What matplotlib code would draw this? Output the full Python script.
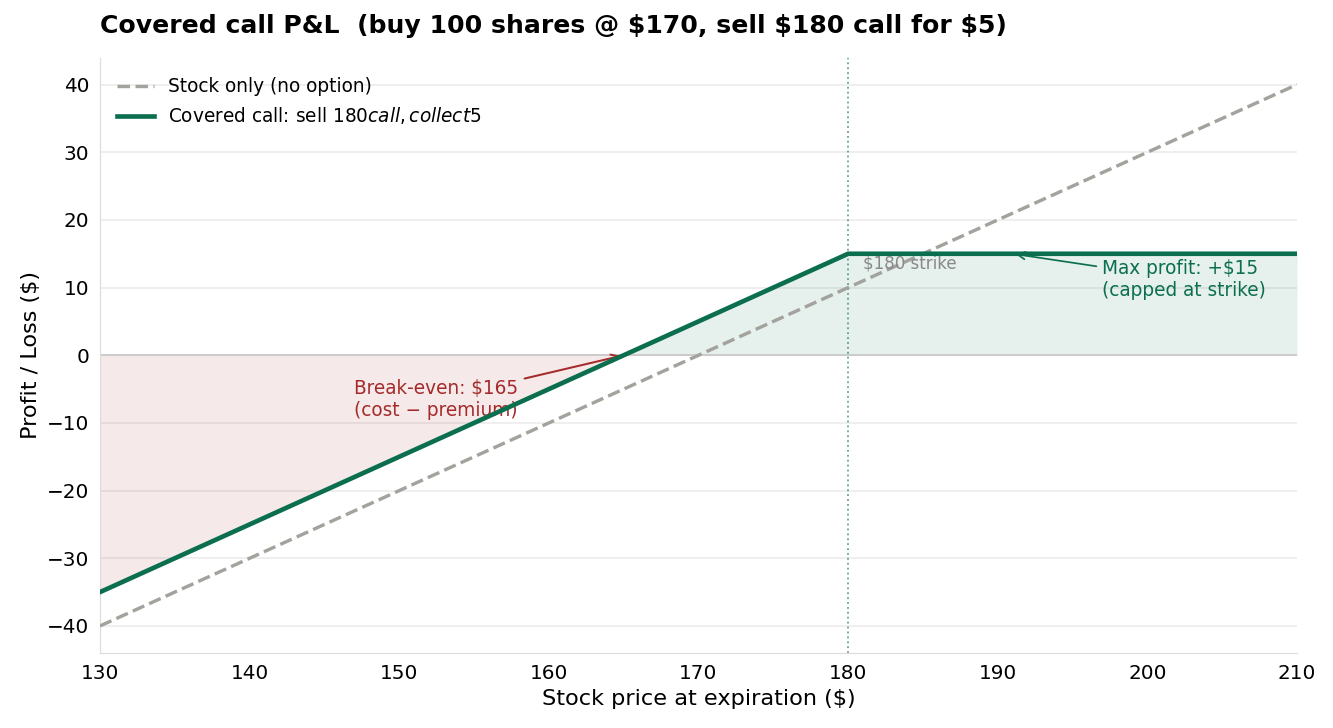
import numpy as np
import matplotlib
matplotlib.use("Agg")
import matplotlib.pyplot as plt

prices = [130, 165, 180, 210]
stock_pnl = [-40, -5, 10, 40]
covered_pnl = [-35, 0, 15, 15]
strike = 180
breakeven = 165
max_profit = 15

green = "#0b6e4f"
red = "#a52a2a"
gray = "#a3a39e"

DPI = 111.1
fig, ax = plt.subplots(figsize=(1333 / DPI, 728 / DPI), dpi=DPI)
fig.subplots_adjust(left=0.075, right=0.973, top=0.921, bottom=0.103)

x = np.array(prices, dtype=float)
yc = np.array(covered_pnl, dtype=float)

ax.fill_between(x[:2], yc[:2], 0, color=red, alpha=0.1, linewidth=0)
ax.fill_between(x[1:], yc[1:], 0, color=green, alpha=0.1, linewidth=0)

ax.axhline(0, color="#cccccc", linewidth=1.3, zorder=1)
ax.axvline(strike, color=green, linestyle=":", linewidth=1.2, alpha=0.6, zorder=1)

ax.plot(prices, stock_pnl, linestyle="--", color=gray, linewidth=2.2,
        label="Stock only (no option)", zorder=3)
ax.plot(prices, covered_pnl, color=green, linewidth=3.0,
        label="Covered call: sell $180 call, collect $5", zorder=4)

ax.text(strike + 1, 12.3, "$180 strike", color="#888888", fontsize=10.8, va="bottom")

ax.annotate("Break-even: $165\n(cost \u2212 premium)", xy=(breakeven, 0),
            xytext=(147, -6.5), color=red, fontsize=12, va="center", ha="left",
            arrowprops=dict(arrowstyle="->", color=red, lw=1.3))
ax.annotate("Max profit: +$15\n(capped at strike)", xy=(191, max_profit),
            xytext=(197, 11.2), color=green, fontsize=12, va="center", ha="left",
            arrowprops=dict(arrowstyle="->", color=green, lw=1.1))

ax.set_xlim(130, 210)
ax.set_ylim(-44, 44)
ax.set_xticks(range(130, 211, 10))
ax.set_yticks(range(-40, 41, 10))
ax.tick_params(labelsize=13, length=0, pad=7)
ax.grid(axis="y", color="#ebebeb", linewidth=1)
ax.set_axisbelow(True)
for s in ["top", "right"]:
    ax.spines[s].set_visible(False)
for s in ["left", "bottom"]:
    ax.spines[s].set_color("#dddddd")

ax.set_xlabel("Stock price at expiration ($)", fontsize=14.5)
ax.set_ylabel("Profit / Loss ($)", fontsize=14.5)
ax.set_title("Covered call P&L  (buy 100 shares @ $170, sell $180 call for $5)",
             fontsize=16.3, fontweight="bold", loc="left", pad=16)
leg = ax.legend(loc="upper left", fontsize=12, frameon=False,
                bbox_to_anchor=(0, 0.995))

fig.savefig("out.png", dpi=DPI)
